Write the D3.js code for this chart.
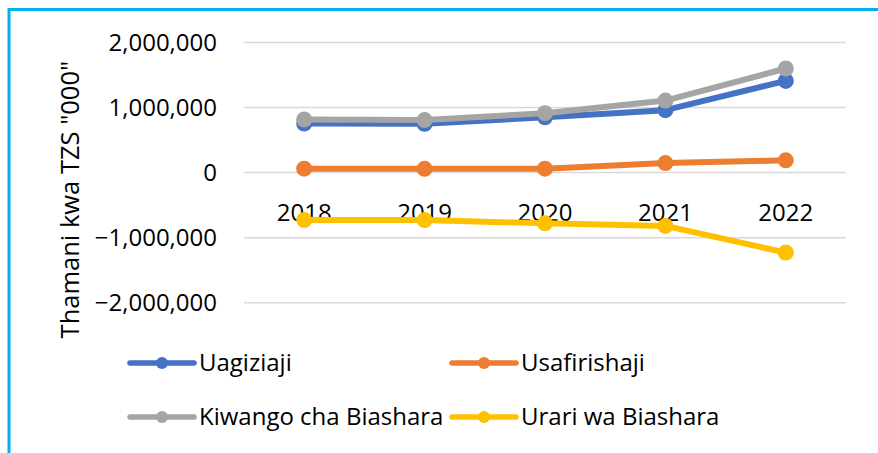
<!DOCTYPE html>
<html>
<head>
<meta charset="utf-8">
<script src="https://cdn.jsdelivr.net/npm/d3@7"></script>
<style>
  html, body { margin: 0; padding: 0; background: #fff; }
  svg { display: block; }
  text { font-family: "Open Sans", "Liberation Sans", sans-serif; fill: #000; }
</style>
</head>
<body>
<svg id="chart" width="878" height="453"></svg>
<script>
const categories = ["2018", "2019", "2020", "2021", "2022"];
const seriesNames = ["Uagiziaji", "Usafirishaji", "Kiwango cha Biashara", "Urari wa Biashara"];
const uagiziaji = [755000, 750000, 850000, 960000, 1410000];
const usafirishaji = [61000, 58000, 61000, 147000, 188000];
const kiwango = [816000, 808000, 913000, 1107000, 1600000];
const urari = [-730000, -730000, -780000, -820000, -1230000];
const yTicks = [-2000000, -1000000, 0, 1000000, 2000000];
const colors = ["#4472C4", "#ED7D31", "#A5A5A5", "#FFC000"];
const yTitle = 'Thamani kwa TZS "000"';

const series = [uagiziaji, usafirishaji, kiwango, urari].map((v, i) => ({
  name: seriesNames[i], values: v, color: colors[i]
}));

const svg = d3.select("#chart");

// outer border
svg.append("rect")
  .attr("x", 9).attr("y", 9.5).attr("width", 1000).attr("height", 1000)
  .attr("fill", "none").attr("stroke", "#00B0F0").attr("stroke-width", 3);

const x = d3.scaleBand().domain(categories).range([244, 846]);
const y = d3.scaleLinear().domain([-2000000, 2000000]).range([302.7, 42.5]);
const fmt = d3.format(",");

// gridlines
svg.append("g").selectAll("line").data(yTicks).join("line")
  .attr("x1", 244).attr("x2", 846)
  .attr("y1", d => y(d)).attr("y2", d => y(d))
  .attr("stroke", "#d9d9d9").attr("stroke-width", 1.5);

// y axis labels
const yAxis = d3.axisLeft(y).tickValues(yTicks).tickFormat(d => fmt(d)).tickSize(0).tickPadding(0);
const yg = svg.append("g").attr("transform", "translate(217,0)").call(yAxis);
yg.select(".domain").remove();
yg.selectAll("text").attr("font-size", 24).attr("font-family", '"Open Sans", sans-serif').attr("fill", "#000");

// x axis labels (at zero line)
const xAxis = d3.axisBottom(x).tickSize(0).tickPadding(0);
const xg = svg.append("g").attr("transform", `translate(0,${y(0)})`).call(xAxis);
xg.select(".domain").remove();
xg.selectAll("text").attr("font-size", 24).attr("font-family", '"Open Sans", sans-serif')
  .attr("fill", "#000").attr("dy", null).attr("y", 48);

// y title
svg.append("text")
  .attr("transform", `translate(79,${y(0) + 27}) rotate(-90)`)
  .attr("text-anchor", "middle")
  .attr("font-size", 25.5)
  .text(yTitle);

// lines
const line = d3.line().x((d, i) => x(categories[i]) + x.bandwidth() / 2).y(d => y(d));
const sg = svg.append("g").selectAll("g").data(series).join("g");
sg.append("path")
  .attr("d", d => line(d.values))
  .attr("fill", "none").attr("stroke", d => d.color)
  .attr("stroke-width", 6).attr("stroke-linejoin", "round").attr("stroke-linecap", "round");
sg.selectAll("circle").data(d => d.values.map(v => ({ v, c: d.color }))).join("circle")
  .attr("cx", (d, i) => x(categories[i]) + x.bandwidth() / 2)
  .attr("cy", d => y(d.v))
  .attr("r", 8)
  .attr("fill", d => d.c);

// legend
const legPos = [[130, 363], [452, 363], [130, 417], [452, 417]];
const lg = svg.append("g").selectAll("g").data(series).join("g")
  .attr("transform", (d, i) => `translate(${legPos[i][0]},${legPos[i][1]})`);
lg.append("line").attr("x1", 0).attr("x2", 64).attr("y1", 0).attr("y2", 0)
  .attr("stroke", d => d.color).attr("stroke-width", 5.5).attr("stroke-linecap", "round");
lg.append("circle").attr("cx", 32).attr("cy", 0).attr("r", 6).attr("fill", d => d.color);
lg.append("text").attr("x", 69).attr("y", 0).attr("dy", "0.35em")
  .attr("font-size", 24).text(d => d.name);
</script>
</body>
</html>
